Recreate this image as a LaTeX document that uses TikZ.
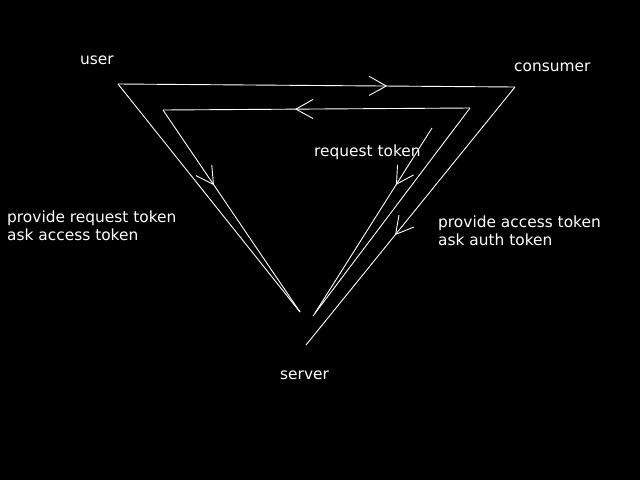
\documentclass[tikz,border=0pt]{standalone}
\usepackage{fontspec}
\setmainfont{DejaVu Sans}
\usetikzlibrary{arrows.meta,decorations.markings}
\begin{document}
\begin{tikzpicture}[x=1pt,y=-1pt,
  wire/.style={draw=white, line width=0.9pt},
  flowmark/.style={postaction={decorate, decoration={markings,
      mark=at position #1 with {\arrow[white]{Straight Barb[length=17pt,width=19pt]}}}}},
  lbl/.style={text=white, font=\fontsize{15.4}{18.5}\selectfont, inner sep=0pt,
      anchor=base west, align=left}]
  % canvas
  \useasboundingbox (0,0) rectangle (640,480);
  \fill[black] (0,0) rectangle (640,480);

  % corner points of the two loops
  \coordinate (uo) at (118,84);
  \coordinate (co) at (515,87);
  \coordinate (so) at (306,345);
  \coordinate (sl) at (300,312);
  \coordinate (ui) at (163,110);
  \coordinate (ci) at (470,108);
  \coordinate (si) at (313,316);
  \coordinate (rq) at (432,128);
  \coordinate (rs) at (315,313);

  % labels (multi-line ones are anchored on their last baseline)
  \node[lbl] (user) at (80,64) {user};
  \node[lbl] (consumer) at (514,71) {consumer};
  \node[lbl] (server) at (280,379) {server};
  \node[lbl] (reqtok) at (314,156) {request token};
  \node[lbl] (leftnote) at (7,240.5) {provide request token\\ask access token};
  \node[lbl] (rightnote) at (438,245.5) {provide access token\\ask auth token};

  % outer loop
  \draw[wire] (sl) -- (uo);
  \draw[wire, flowmark=0.678] (uo) -- (co);
  \draw[wire, flowmark=0.574] (co) -- (so);

  % inner loop
  \draw[wire, flowmark=0.57] (ci) -- (ui);
  \draw[wire, flowmark=0.372] (ui) -- (sl);
  \draw[wire] (ci) -- (si);

  % request token line
  \draw[wire, flowmark=0.308] (rq) -- (rs);
\end{tikzpicture}
\end{document}
